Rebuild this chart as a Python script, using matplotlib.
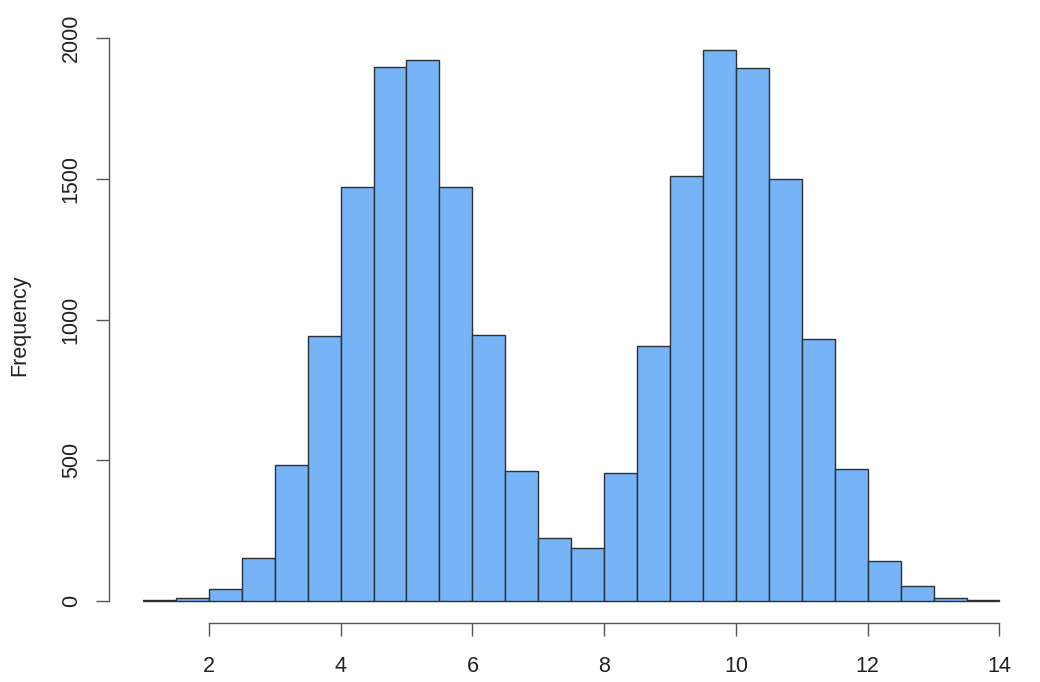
import numpy as np
import matplotlib.pyplot as plt

plt.rcParams['font.family'] = ['Liberation Sans', 'DejaVu Sans']

# histogram bins (width 0.5 from 1 to 14) and counts
bin_edges = np.arange(1.0, 14.01, 0.5)
counts = [3, 12, 44, 153, 484, 942, 1470, 1897, 1922, 1470, 946, 462,
          225, 190, 455, 905, 1508, 1957, 1893, 1499, 930, 470, 142, 52, 11, 3]

x_ticks = [2, 4, 6, 8, 10, 12, 14]
y_ticks = [0, 500, 1000, 1500, 2000]

fig = plt.figure(figsize=(10.4, 6.82), dpi=100)
ax = fig.add_axes([0.1045, 0.0865, 0.8895, 0.8735])

ax.bar(bin_edges[:-1], counts, width=0.5, align='edge',
       color='#76b3f7', edgecolor='#2b2f36', linewidth=1.0)

ax.set_xlim(0.48, 14.52)
ax.set_ylim(-78, 2038)

for s in ['top', 'right']:
    ax.spines[s].set_visible(False)
ax.spines['left'].set_bounds(0, 2000)
ax.spines['bottom'].set_bounds(2, 14)
for s in ['left', 'bottom']:
    ax.spines[s].set_color('#555555')
    ax.spines[s].set_linewidth(1.0)

ax.set_xticks(x_ticks)
ax.set_yticks(y_ticks)
ax.tick_params(axis='both', direction='out', length=9.4, width=1.0,
               color='#555555', labelcolor='#222222', labelsize=15.5)
ax.tick_params(axis='x', pad=14)
ax.tick_params(axis='y', pad=10)
plt.setp(ax.get_yticklabels(), rotation=90, va='center')

# y label placed like R's mtext on the outer margin
fig.text(20 / 1040, 1 - 325 / 682, 'Frequency', rotation=90,
         ha='center', va='center', fontsize=15.5, color='#222222')

plt.savefig('out.png', dpi=100)
